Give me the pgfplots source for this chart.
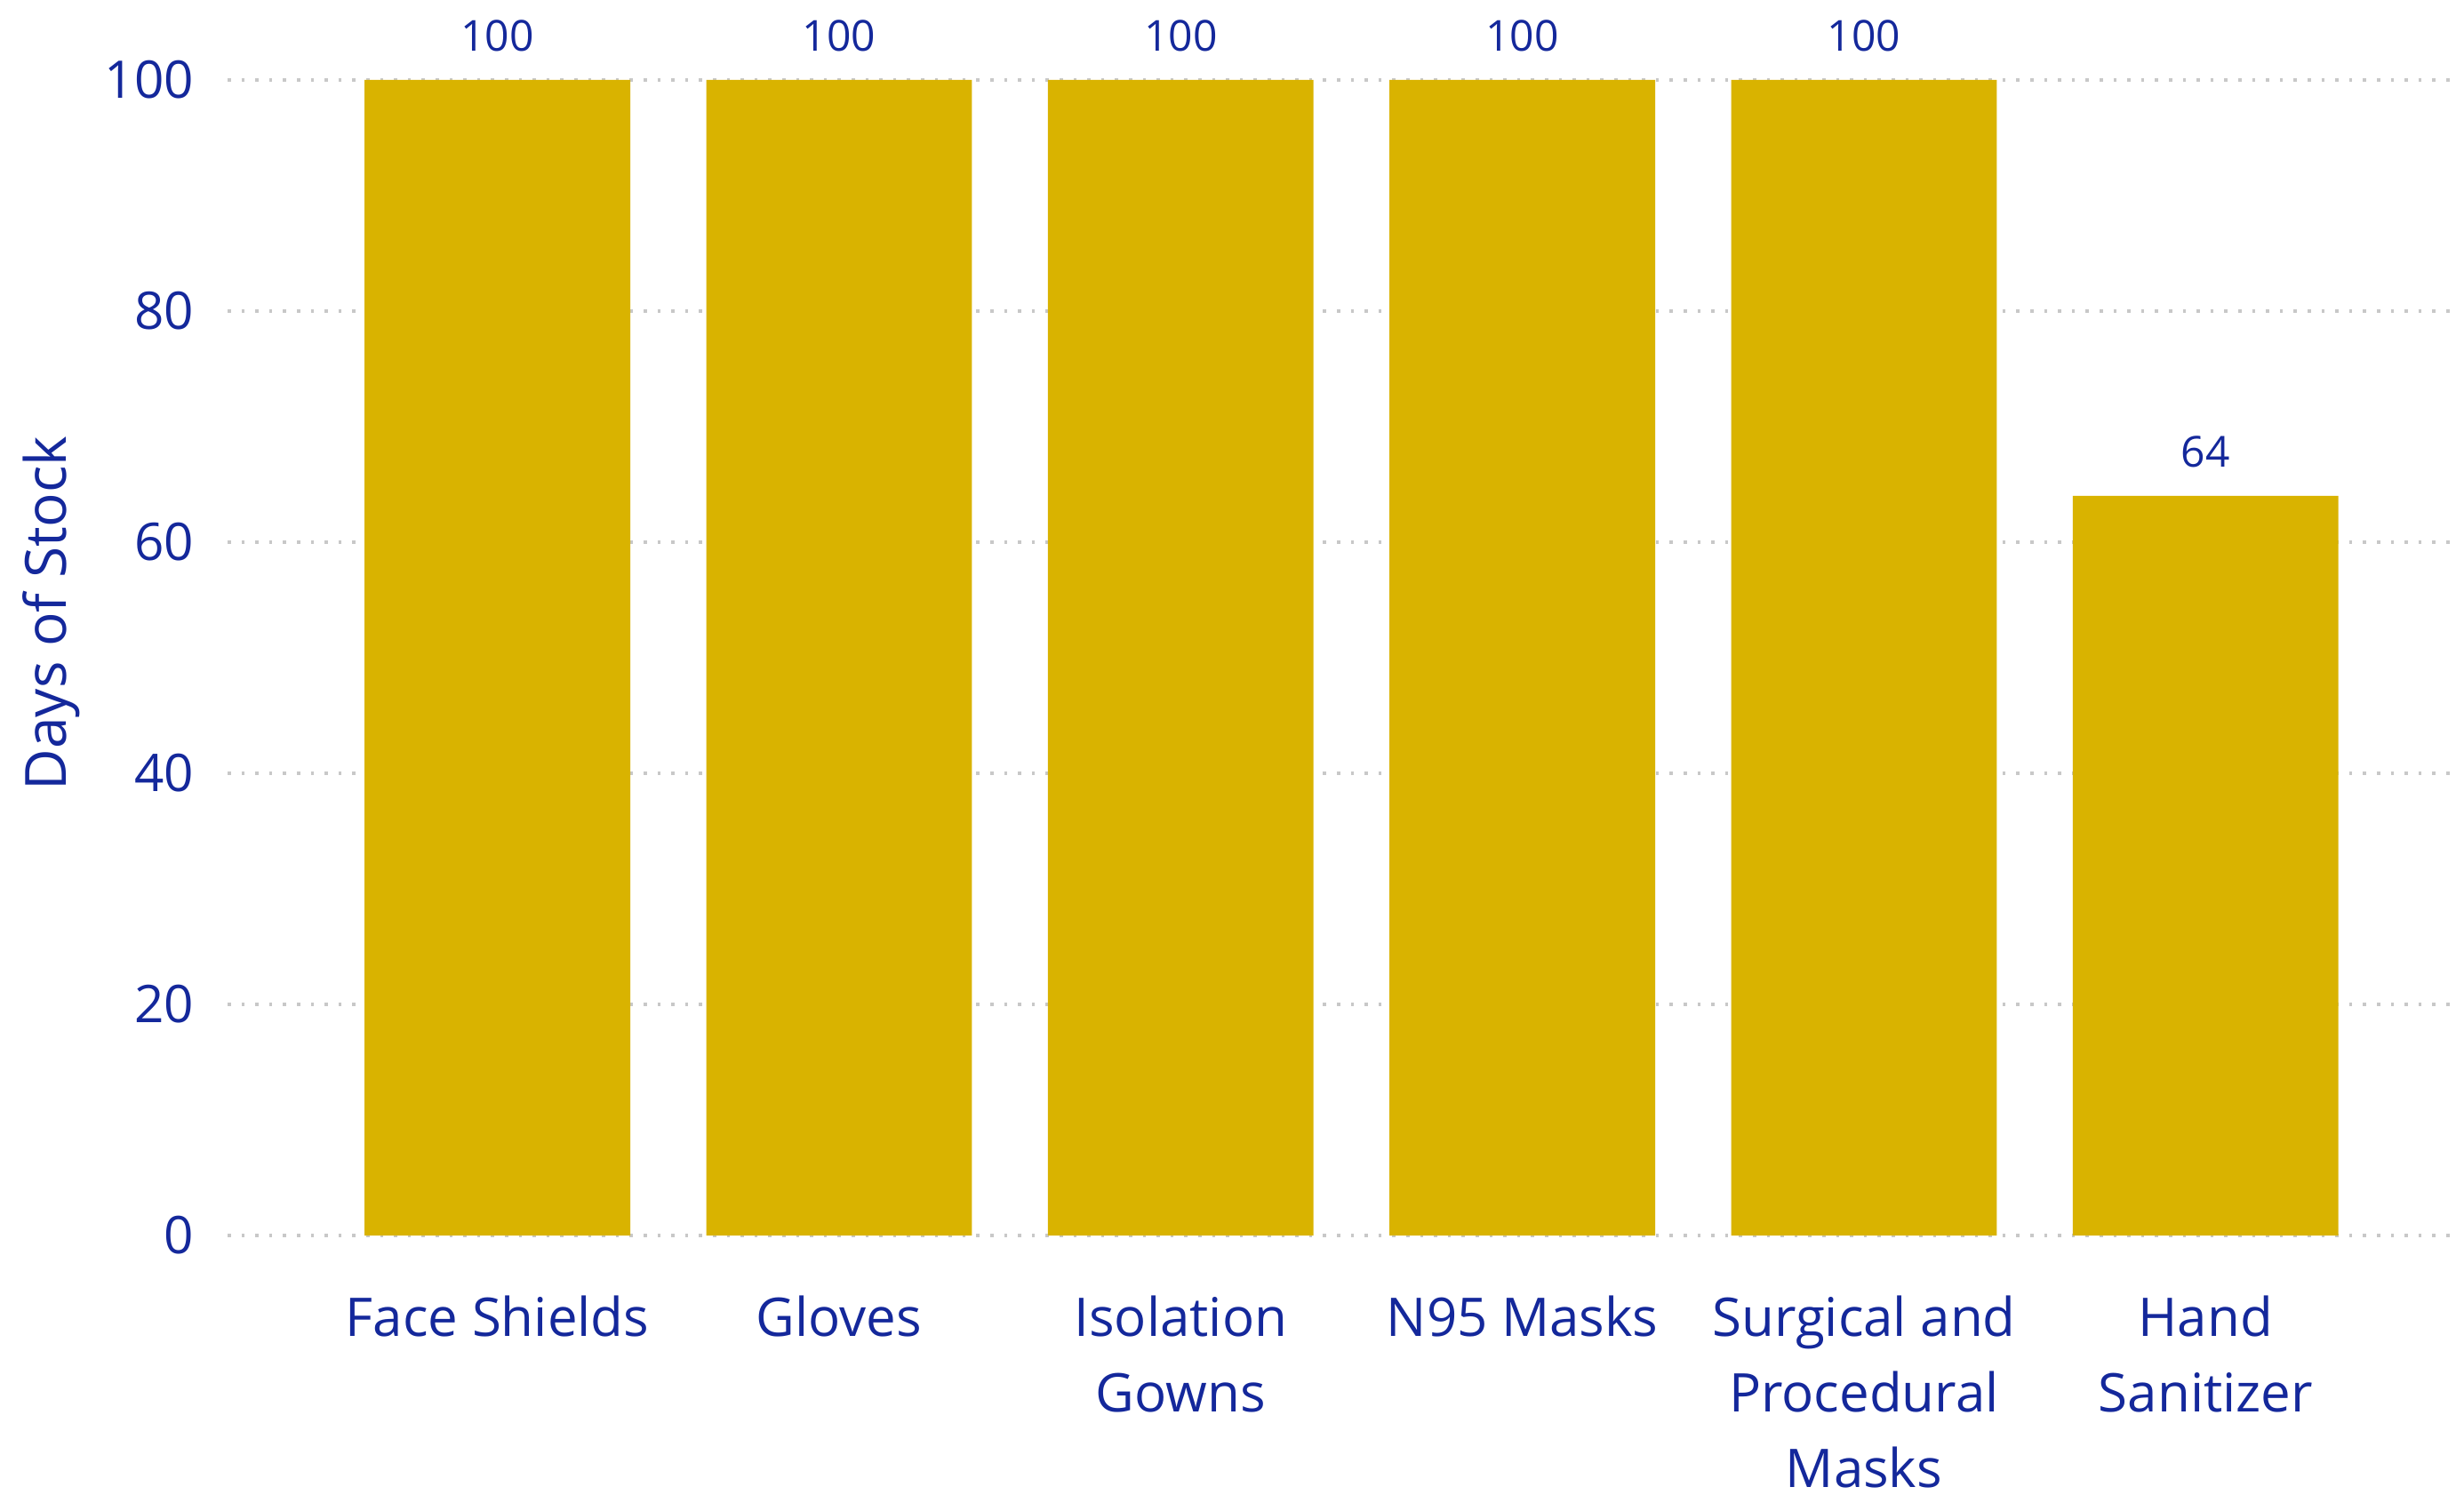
\documentclass[border=0pt]{standalone}
\usepackage{fontspec}
\setmainfont{Open Sans}
\usepackage{pgfplots}
\pgfplotsset{compat=1.18}
\definecolor{txtblue}{RGB}{20,40,155}
\definecolor{gold}{RGB}{217,179,0}
\definecolor{gridgray}{RGB}{200,200,200}
\begin{document}
\begin{tikzpicture}
\begin{axis}[
  at={(0,0)}, anchor=south west,
  width=625.5pt, height=325pt, scale only axis,
  xmin=-0.79, xmax=5.72, ymin=0, ymax=100,
  clip=false,
  axis line style={draw=none},
  tick style={draw=none},
  major tick length=0pt,
  ytick={0,20,40,60,80,100},
  xtick={0,1,2,3,4,5},
  xticklabels={Face Shields,Gloves,{Isolation\\Gowns},N95 Masks,{Surgical and\\Procedural\\Masks},{Hand\\Sanitizer}},
  ymajorgrids,
  grid style={gridgray, line width=0.9pt, dash pattern=on 0.9pt off 3pt},
  /pgf/number format/assume math mode=true,
  yticklabel style={font=\fontsize{14.6}{17}\selectfont, text=txtblue, xshift=-6pt},
  xticklabel style={font=\fontsize{15}{21.2}\selectfont, text=txtblue, align=center, yshift=-13.5pt},
  every axis y label/.style={at={(axis description cs:-0.0791,0.5385)}, rotate=90, anchor=center},
  ylabel={Days of Stock},
  ylabel style={font=\fontsize{16}{19}\selectfont, text=txtblue},
  nodes near coords,
  every node near coord/.append style={font=\fontsize{12}{14}\selectfont, text=txtblue, anchor=center, yshift=12.5pt},
]
\addplot[ybar, bar width=74.7pt, fill=gold, draw=none] coordinates {
  (0,100) (1,100) (2,100) (3,100) (4,100) (5,64)
};
\end{axis}
\pgfresetboundingbox
\path[use as bounding box] (-64pt,-72.75pt) rectangle (629pt,347.5pt);
\end{tikzpicture}
\end{document}
